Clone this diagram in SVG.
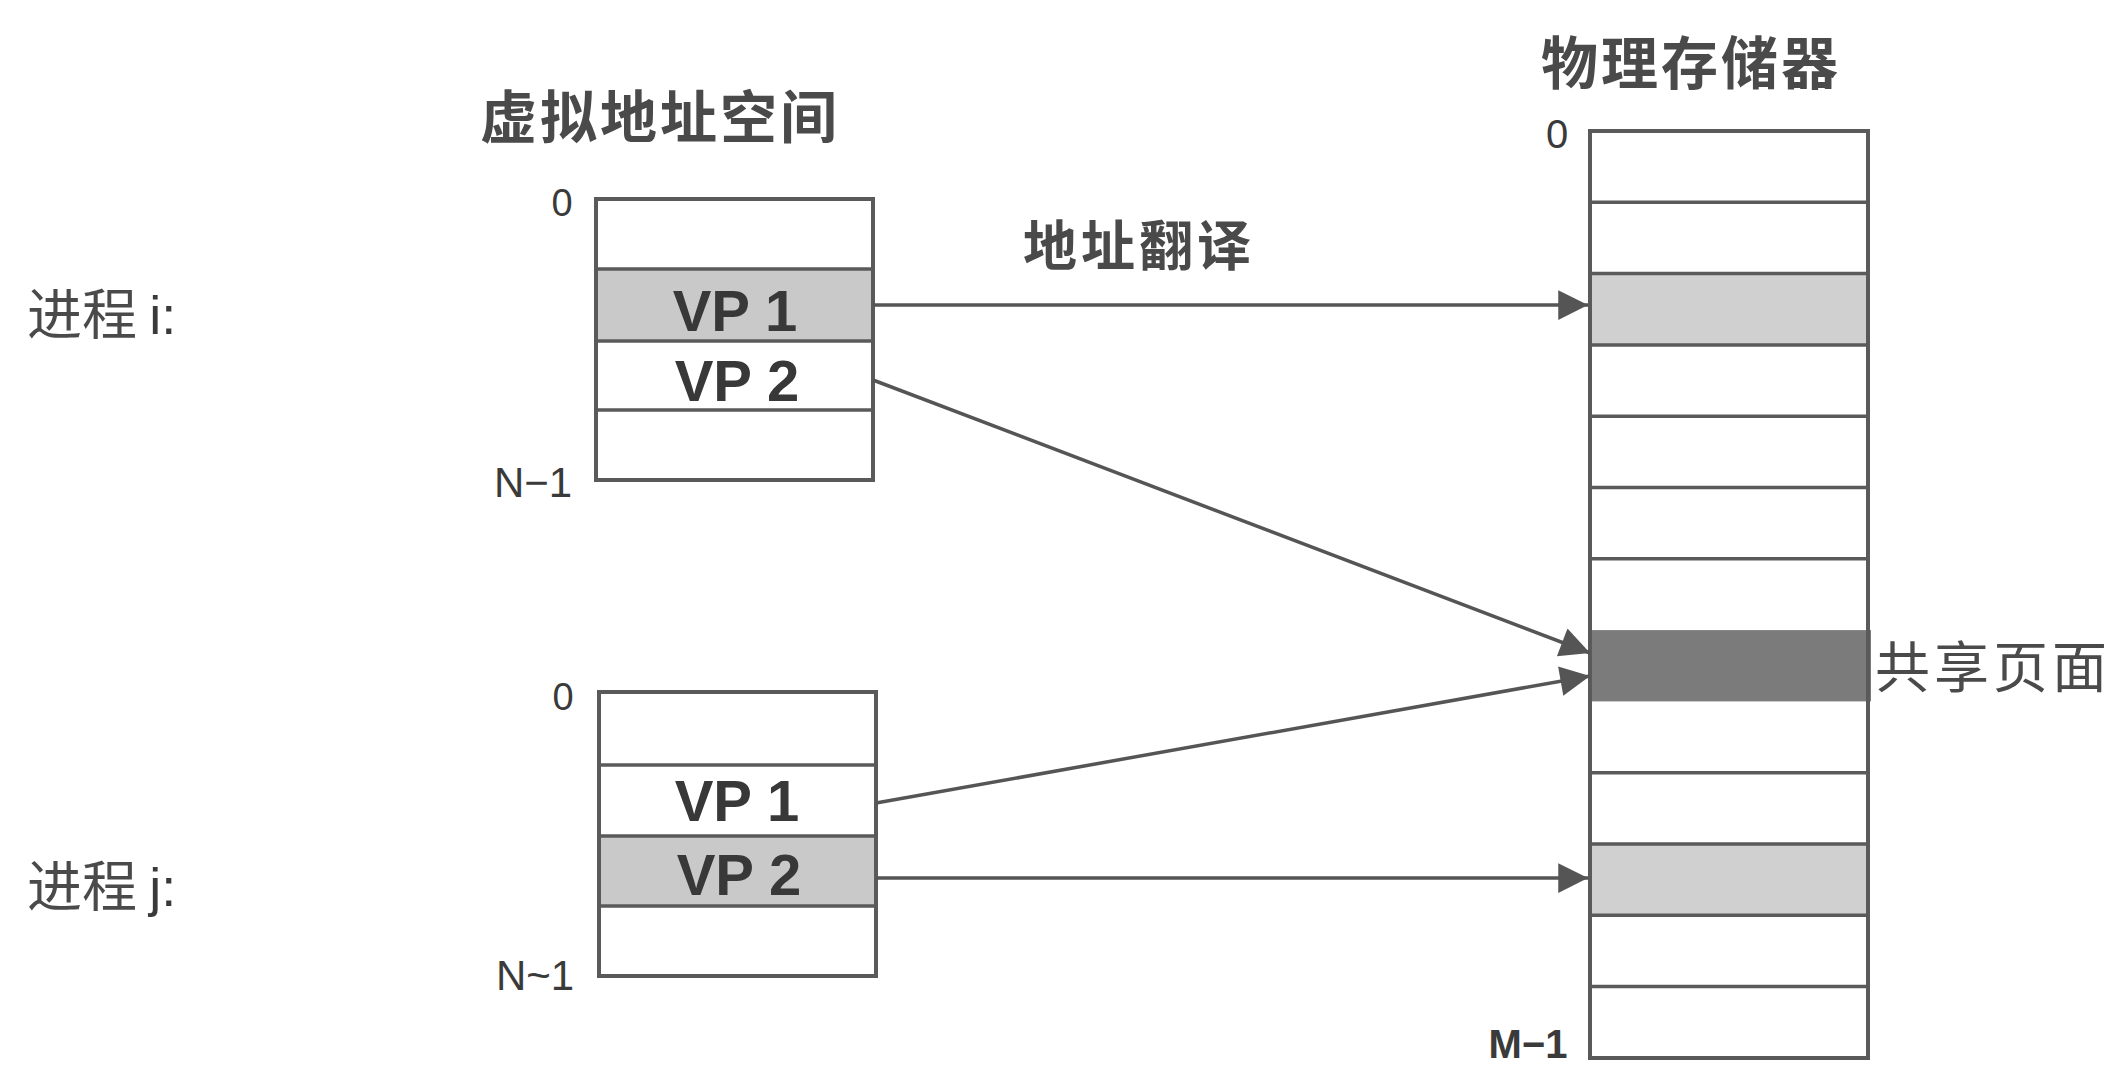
<svg xmlns="http://www.w3.org/2000/svg" width="2120" height="1065" viewBox="0 0 2120 1065">
<defs>
<style>
.cjk{font-family:"Noto Sans CJK SC","Noto Sans",sans-serif;fill:#4a4a4a;}
.lat{font-family:"Liberation Sans",Arial,sans-serif;fill:#3a3a3a;}
.vp{font-family:"Liberation Sans",Arial,sans-serif;fill:#383838;font-weight:bold;font-size:58px;text-anchor:middle;}
.box{fill:none;stroke:#5a5a5a;stroke-width:4;}
.div{stroke:#5a5a5a;stroke-width:3.5;}
.conn{stroke:#555;stroke-width:3.5;fill:none;}
</style>
<marker id="ah" viewBox="0 0 10 10" refX="10" refY="5" markerWidth="9.5" markerHeight="8.5" markerUnits="strokeWidth" orient="auto">
<path d="M0,0 L10,5 L0,10 z" fill="#555"/>
</marker>
</defs>
<rect width="2120" height="1065" fill="#ffffff"/>

<g id="title-virtual"><text class="cjk" x="480" y="138" font-size="57" font-weight="bold" letter-spacing="3">虚拟地址空间</text></g>
<g id="title-physical"><text class="cjk" x="1541" y="84" font-size="57" font-weight="bold" letter-spacing="3">物理存储器</text></g>
<g id="label-translate"><text class="cjk" x="1023" y="266" font-size="54" font-weight="bold" letter-spacing="4">地址翻译</text></g>
<g id="label-proc-i"><text class="cjk" x="27" y="334" font-size="55">进程 <tspan class="lat" font-family="Liberation Serif,serif" font-size="54">i:</tspan></text></g>
<g id="label-proc-j"><text class="cjk" x="27" y="906" font-size="55">进程 <tspan class="lat" font-family="Liberation Serif,serif" font-size="54">j:</tspan></text></g>

<g id="vas-i">
<rect x="596" y="269" width="277" height="72" fill="#c9c9c9"/>
<rect class="box" x="596" y="199" width="277" height="281"/>
<line class="div" x1="596" y1="269" x2="873" y2="269"/>
<line class="div" x1="596" y1="341" x2="873" y2="341"/>
<line class="div" x1="596" y1="410" x2="873" y2="410"/>
<text class="vp" x="735" y="331">VP 1</text>
<text class="vp" x="737" y="401">VP 2</text>
<text class="lat" x="562" y="216" font-size="38" text-anchor="middle">0</text>
<text class="lat" x="533" y="497" font-size="42" text-anchor="middle">N−1</text>
</g>

<g id="vas-j">
<rect x="599" y="836" width="277" height="70" fill="#c9c9c9"/>
<rect class="box" x="599" y="692" width="277" height="284"/>
<line class="div" x1="599" y1="765" x2="876" y2="765"/>
<line class="div" x1="599" y1="836" x2="876" y2="836"/>
<line class="div" x1="599" y1="906" x2="876" y2="906"/>
<text class="vp" x="737" y="821">VP 1</text>
<text class="vp" x="739" y="895">VP 2</text>
<text class="lat" x="563" y="710" font-size="38" text-anchor="middle">0</text>
<text class="lat" x="535" y="990" font-size="42" text-anchor="middle">N~1</text>
</g>

<g id="phys-mem">
<rect x="1590" y="273.6" width="278" height="71.3" fill="#d0d0d0"/>
<rect x="1590" y="630.1" width="281" height="71.3" fill="#7b7b7b"/>
<rect x="1590" y="844" width="278" height="71.3" fill="#d0d0d0"/>
<rect class="box" x="1590" y="131" width="278" height="927"/>
<line class="div" x1="1590" y1="202.3" x2="1868" y2="202.3"/>
<line class="div" x1="1590" y1="273.6" x2="1868" y2="273.6"/>
<line class="div" x1="1590" y1="344.9" x2="1868" y2="344.9"/>
<line class="div" x1="1590" y1="416.2" x2="1868" y2="416.2"/>
<line class="div" x1="1590" y1="487.5" x2="1868" y2="487.5"/>
<line class="div" x1="1590" y1="558.8" x2="1868" y2="558.8"/>
<line class="div" x1="1590" y1="772.7" x2="1868" y2="772.7"/>
<line class="div" x1="1590" y1="844" x2="1868" y2="844"/>
<line class="div" x1="1590" y1="915.3" x2="1868" y2="915.3"/>
<line class="div" x1="1590" y1="986.6" x2="1868" y2="986.6"/>
<text class="lat" x="1557" y="148" font-size="40" text-anchor="middle">0</text>
<text class="lat" x="1528" y="1058" font-size="40" font-weight="bold" text-anchor="middle">M−1</text>
</g>

<g id="label-shared"><text class="cjk" x="1875" y="687" font-size="55" letter-spacing="4">共享页面</text></g>

<g id="connectors">
<line class="conn" x1="873" y1="305" x2="1588" y2="305" marker-end="url(#ah)"/>
<line class="conn" x1="873" y1="380" x2="1590" y2="653" marker-end="url(#ah)"/>
<line class="conn" x1="876" y1="803" x2="1590" y2="676" marker-end="url(#ah)"/>
<line class="conn" x1="876" y1="878" x2="1588" y2="878" marker-end="url(#ah)"/>
</g>
</svg>
